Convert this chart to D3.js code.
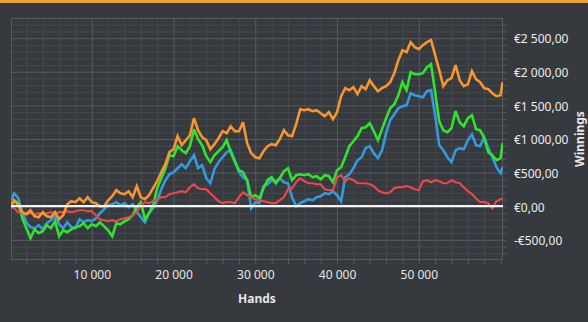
<!DOCTYPE html>
<html><head><meta charset="utf-8">
<script src="https://cdn.jsdelivr.net/npm/d3@7"></script>
<style>
html,body{margin:0;padding:0;background:#36393d;}
svg{display:block;}
text{font-family:"Noto Sans",sans-serif;}
</style></head><body>
<svg id="c" width="588" height="322"></svg>
<script>
const hands = [150,500,1000,1500,2000,2500,3000,3500,4000,4500,5000,5500,6000,6500,7000,7500,8000,8500,9000,9500,
10000,10500,11000,11500,12000,12500,13000,13500,14000,14500,15000,15500,16000,16500,17000,17500,18000,18500,19000,19500,
20000,20500,21000,21500,22000,22500,23000,23500,24000,24500,25000,25500,26000,26500,27000,27500,28000,28500,29000,29500,
30000,30500,31000,31500,32000,32500,33000,33500,34000,34500,35000,35500,36000,36500,37000,37500,38000,38500,39000,39500,
40000,40500,41000,41500,42000,42500,43000,43500,44000,44500,45000,45500,46000,46500,47000,47500,48000,48500,49000,49500,
50000,50500,51000,51500,52000,52500,53000,53500,54000,54500,55000,55500,56000,56500,57000,57500,58000,58500,59000,59500,
60000,60250];

const blue = [89,193,119,-89,-238,-312,-327,-283,-342,-253,
-208,-149,-268,-327,-238,-312,-327,-193,-238,-208,
-223,-179,-104,-45,15,30,60,15,45,-15,
30,-89,-164,-238,-104,-30,89,253,387,476,
506,565,625,565,670,759,565,610,417,342,
551,655,729,804,833,684,506,432,387,-30,
60,45,298,327,387,372,417,357,342,134,
0,45,74,104,89,134,149,193,179,223,
164,74,432,476,565,684,729,863,893,789,
714,833,1086,1280,1369,1458,1488,1500,1681,1652,
1637,1622,1711,1726,1354,908,833,729,655,833,
863,848,982,1071,908,893,1027,863,729,580,
491,580];

const green = [-30,89,45,-179,-327,-476,-342,-402,-372,-283,
-327,-223,-446,-357,-387,-342,-312,-298,-253,-327,
-268,-298,-238,-298,-357,-446,-253,-268,-223,-193,
-134,-15,60,-193,-104,15,268,417,565,759,
744,893,833,789,893,1146,997,908,744,655,
759,818,878,982,804,655,536,506,387,134,
164,119,268,387,432,342,417,521,565,387,
461,476,461,476,432,446,402,461,446,357,
536,580,729,893,967,1042,1161,1175,1235,1116,
982,1146,1309,1458,1518,1652,1845,1726,1994,1964,
1964,1979,2068,2113,1696,1265,1131,1101,1161,1414,
1250,1190,1309,1354,1146,1131,1012,804,759,684,
714,937];

const red = [15,-30,-89,-104,-119,-104,-119,-104,-119,-104,
-89,-104,-89,-89,-74,-89,-74,-60,-60,-74,
-74,-134,-193,-208,-223,-208,-223,-193,-179,-164,
-134,-89,15,60,45,74,104,134,134,179,
193,208,223,208,283,327,268,253,253,193,
134,74,45,60,60,45,134,208,164,134,
104,89,74,60,45,45,89,134,253,268,
357,417,372,342,342,327,327,253,238,238,
432,461,372,417,387,342,342,342,327,298,
238,208,193,208,268,283,283,298,283,253,
238,372,387,357,387,372,342,342,387,357,
342,283,223,179,119,60,60,45,-30,74,
104,119];

const orange = [30,89,15,-89,-119,-60,-149,-164,-89,-149,
-164,-89,-193,-134,30,74,60,119,60,134,
60,45,0,0,89,149,238,193,179,223,
134,298,134,104,164,268,372,506,625,804,
848,1042,908,982,1056,1309,1131,1027,982,848,
923,1012,1116,1086,1190,1116,1116,1250,937,789,
729,714,818,893,923,908,997,1131,1056,1042,
1220,1443,1428,1443,1414,1428,1384,1339,1399,1295,
1399,1637,1756,1726,1771,1667,1786,1741,1875,1786,
1711,1756,1786,1845,1979,2172,2321,2292,2440,2366,
2336,2396,2440,2470,2247,2024,1786,1875,1905,2098,
1875,1786,1815,2009,1890,1845,1756,1741,1681,1637,
1652,1845];

const xTicks = [10000,20000,30000,40000,50000];
const yTicks = [-500,0,500,1000,1500,2000,2500];
const xLabel = "Hands";
const yLabel = "Winnings";

const series = [
  {name:"blue", values: blue, color:"#3499df", w:2.6},
  {name:"green", values: green, color:"#2fe32f", w:2.6},
  {name:"red", values: red, color:"#e8484b", w:2.2},
  {name:"orange", values: orange, color:"#f7962f", w:2.6}
];

const svg = d3.select("#c");
const m = {left:11, right:503, top:18, bottom:260};
const x = d3.scaleLinear().domain([116, 60300]).range([m.left, m.right]);
const y = d3.scaleLinear().domain([-800, 2800]).range([m.bottom, m.top]);

const loc = d3.formatLocale({decimal:",", thousands:" ", grouping:[3], currency:["€",""], minus:"-"});
const fmtY = loc.format("$,.2f");
const fmtX = loc.format(",d");

svg.append("rect").attr("x",0).attr("y",0).attr("width",588).attr("height",3).attr("fill","#e9a23c");

const minorX = d3.range(2000, 60300, 2000);
const minorY = d3.range(-700, 2800, 100);

svg.append("g").attr("transform",`translate(0,${m.bottom})`)
  .call(d3.axisBottom(x).tickValues(minorX.filter(v=>v%10000!==0)).tickSize(-(m.bottom-m.top)).tickFormat(""))
  .call(g=>{g.select(".domain").remove(); g.selectAll("line").attr("stroke","#45494e");});
svg.append("g").attr("transform",`translate(${m.left},0)`)
  .call(d3.axisLeft(y).tickValues(minorY.filter(v=>v%500!==0)).tickSize(-(m.right-m.left)).tickFormat(""))
  .call(g=>{g.select(".domain").remove(); g.selectAll("line").attr("stroke","#45494e");});
svg.append("g").attr("transform",`translate(0,${m.bottom})`)
  .call(d3.axisBottom(x).tickValues(xTicks).tickSize(-(m.bottom-m.top)).tickFormat(""))
  .call(g=>{g.select(".domain").remove(); g.selectAll("line").attr("stroke","#575b60");});
svg.append("g").attr("transform",`translate(${m.left},0)`)
  .call(d3.axisLeft(y).tickValues(yTicks).tickSize(-(m.right-m.left)).tickFormat(""))
  .call(g=>{g.select(".domain").remove(); g.selectAll("line").attr("stroke","#575b60");});

svg.append("rect").attr("x",m.left+0.5).attr("y",m.top+0.5)
  .attr("width",m.right-m.left-1).attr("height",m.bottom-m.top-1)
  .attr("fill","none").attr("stroke","#575b60");

svg.append("g").attr("transform",`translate(0,${m.bottom})`)
  .call(d3.axisBottom(x).tickValues(minorX).tickSize(4).tickFormat(""))
  .call(g=>{g.select(".domain").remove(); g.selectAll("line").attr("stroke","#575b60");});
svg.append("g").attr("transform",`translate(${m.right},0)`)
  .call(d3.axisRight(y).tickValues(minorY).tickSize(4).tickFormat(""))
  .call(g=>{g.select(".domain").remove(); g.selectAll("line").attr("stroke","#575b60");});

svg.append("clipPath").attr("id","clip").append("rect")
  .attr("x",m.left).attr("y",m.top).attr("width",m.right-m.left).attr("height",m.bottom-m.top);

const line = d3.line().x((d,i)=>x(hands[i])).y(d=>y(d));
const plot = svg.append("g").attr("clip-path","url(#clip)");
series.forEach(s=>{
  plot.append("path").datum(s.values).attr("d",line)
    .attr("fill","none").attr("stroke",s.color).attr("stroke-width",s.w)
    .attr("stroke-linejoin","miter").attr("stroke-miterlimit",3);
});
plot.append("line").attr("x1",m.left).attr("x2",m.right).attr("y1",y(0)).attr("y2",y(0))
  .attr("stroke","#f4f4f4").attr("stroke-width",2.2);

svg.append("g").attr("transform",`translate(0,${m.bottom})`)
  .call(d3.axisBottom(x).tickValues(xTicks).tickSize(0).tickPadding(10.5).tickFormat(fmtX))
  .call(g=>{g.select(".domain").remove(); g.selectAll("text").attr("fill","#e6e6e6").style("font-size","12px").style("font-family","'Noto Sans',sans-serif");});
svg.append("g").attr("transform",`translate(${m.right},0)`)
  .call(d3.axisRight(y).tickValues(yTicks).tickSize(0).tickPadding(11).tickFormat(fmtY))
  .call(g=>{g.select(".domain").remove(); g.selectAll("text").attr("fill","#ececec").attr("dy","0.4em").style("font-size","12px").style("font-family","'Noto Sans',sans-serif");});

svg.append("text").attr("x",(m.left+m.right)/2).attr("y",303).attr("text-anchor","middle")
  .attr("fill","#e6e6e6").style("font-size","12px").style("font-weight","bold").text(xLabel);
svg.append("text").attr("transform",`translate(584,${(m.top+m.bottom)/2}) rotate(-90)`).attr("text-anchor","middle")
  .attr("fill","#e6e6e6").style("font-size","12px").style("font-weight","bold").text(yLabel);
</script>
</body></html>
